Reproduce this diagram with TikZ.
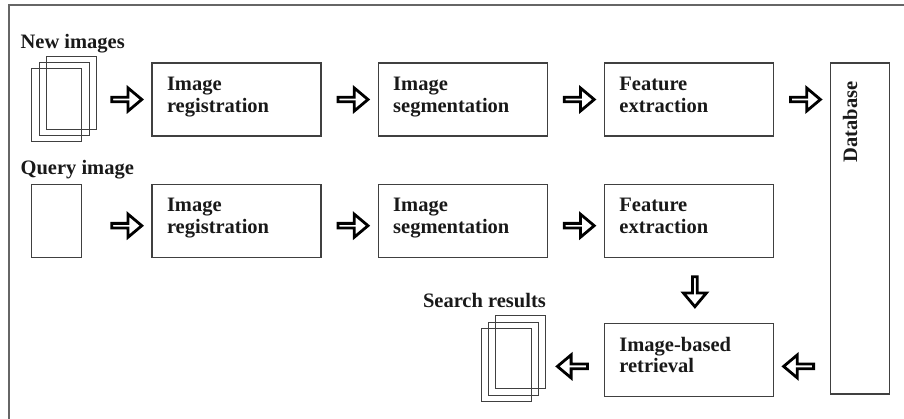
\documentclass[tikz,border=0pt]{standalone}
\usepackage{fontspec}
\setmainfont{Liberation Serif}
\usetikzlibrary{positioning, shapes.arrows, calc}

\begin{document}
\begin{tikzpicture}[ x = 1pt, y = 1pt
                   , font = \fontsize{20.5}{21.5}\selectfont\bfseries
                   , node distance = 47pt and 56pt
                   , stage/.style = { rectangle
                                    , draw = black!75
                                    , line width = 1.2pt
                                    , text = black!90
                                    , text width = 139pt
                                    , inner xsep = 15pt
                                    , inner ysep = 0pt
                                    , minimum height = 73pt
                                    , align = left
                                    , text height = 13.6pt
                                    , text depth = 31.4pt }
                   , store/.style = { rectangle
                                    , draw = black!75
                                    , line width = 1.2pt
                                    , minimum width = 59pt
                                    , minimum height = 331pt }
                   , page/.style = { rectangle
                                   , draw = black!75
                                   , line width = 1pt
                                   , inner sep = 0pt
                                   , minimum width = 50pt
                                   , minimum height = 73pt }
                   , flow/.style = { single arrow
                                   , draw = black
                                   , fill = white
                                   , line width = 2.8pt
                                   , inner sep = 0pt
                                   , minimum height = 30pt
                                   , minimum width = 23pt
                                   , single arrow head extend = 5.5pt
                                   , single arrow tip angle = 80 }
                   , caption/.style = { inner sep = 0pt, text = black!90 }
                   , frame/.style = { draw = black!60, line width = 1.3pt }
                   ]

  \useasboundingbox (0, 0) rectangle (904, -419);
  \draw [frame] (9, -419) |- (904, -5);

  % processing chain for the incoming images
  \node (reg1) [stage] at (236.5, -99.5) {Image\\registration};
  \node (seg1) [stage, right = of reg1] {Image\\segmentation};
  \node (feat1) [stage, right = of seg1] {Feature\\extraction};

  % same chain for the query
  \node (reg2) [stage, below = of reg1] {Image\\registration};
  \node (seg2) [stage, right = of reg2] {Image\\segmentation};
  \node (feat2) [stage, right = of seg2] {Feature\\extraction};

  \node (ret) [stage, below = 65pt of feat2] {Image-based\\retrieval};
  \node (db) [store, below right = 0pt and 56pt of feat1.north east] {};
  \node (dblabel) [caption, rotate = 90, anchor = base east]
    at ($(db.north west) + (27, -19)$) {Database};

  % stacks of pages
  \node (newimg) [page, left = 69pt of reg1, yshift = -6pt] {};
  \foreach \k in {1, 2}
    \node (newimg-\k) [page, xshift = \k*7.25pt, yshift = \k*6.25pt] at (newimg) {};
  \node (query) [page, left = 69pt of reg2] {};
  \node (result) [page, left = 72pt of ret, yshift = -5pt] {};
  \foreach \k in {1, 2}
    \node (result-\k) [page, xshift = \k*7.25pt, yshift = \k*6.25pt] at (result) {};

  \node (newlbl) [caption, anchor = base west]
    at ($(newimg.north west) + (-11, 20)$) {New images};
  \node (querylbl) [caption, anchor = base west]
    at ($(query.north west) + (-11, 9.5)$) {Query image};
  \node (resultlbl) [caption, anchor = base west]
    at ($(result.north west) + (-58, 20.5)$) {Search results};

  % block arrows
  \node (a1) [flow] at ($(reg1.west) + (-26, 0)$) {};
  \node (a2) [flow] at ($(seg1.west) + (-26, 0)$) {};
  \node (a3) [flow] at ($(feat1.west) + (-26, 0)$) {};
  \node (a4) [flow] at ($(feat1.east) + (30, 0)$) {};

  \node (b1) [flow] at ($(reg2.west) + (-26, -5)$) {};
  \node (b2) [flow] at ($(seg2.west) + (-26, -5)$) {};
  \node (b3) [flow] at ($(feat2.west) + (-26, -5)$) {};
  \node (b4) [flow, shape border rotate = 270] at ($(feat2.south) + (6, -32.5)$) {};

  \node (c1) [flow, shape border rotate = 180] at ($(ret.west) + (-30, -6.5)$) {};
  \node (c2) [flow, shape border rotate = 180] at ($(ret.east) + (26, -6.5)$) {};

\end{tikzpicture}
\end{document}
